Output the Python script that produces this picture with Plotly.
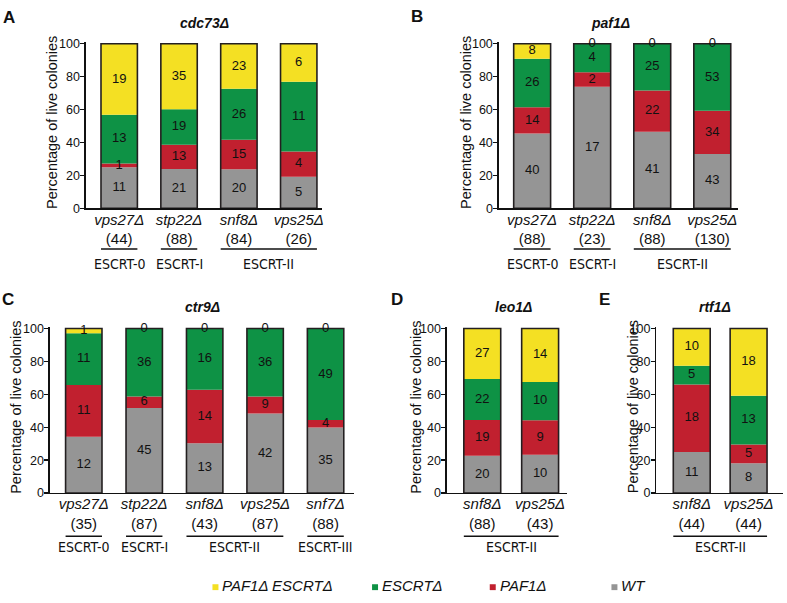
import plotly.graph_objects as go

W, H = 787, 603

# ---------------- data ----------------
series_names = ["WT", "PAF1Δ", "ESCRTΔ", "PAF1Δ ESCRTΔ"]          # stacked bottom -> top
series_colors = ["#959595", "#C1202F", "#0E9245", "#F4E023"]

# A: cdc73Δ
a_title = "cdc73Δ"
a_strains = ["vps27Δ", "stp22Δ", "snf8Δ", "vps25Δ"]
a_wt = [11, 21, 20, 5]
a_paf = [1, 13, 15, 4]
a_escrt = [13, 19, 26, 11]
a_double = [19, 35, 23, 6]
a_groups = [("ESCRT-0", 0, 0), ("ESCRT-I", 1, 1), ("ESCRT-II", 2, 3)]

# B: paf1Δ
b_title = "paf1Δ"
b_strains = ["vps27Δ", "stp22Δ", "snf8Δ", "vps25Δ"]
b_wt = [40, 17, 41, 43]
b_paf = [14, 2, 22, 34]
b_escrt = [26, 4, 25, 53]
b_double = [8, 0, 0, 0]
b_groups = [("ESCRT-0", 0, 0), ("ESCRT-I", 1, 1), ("ESCRT-II", 2, 3)]

# C: ctr9Δ
c_title = "ctr9Δ"
c_strains = ["vps27Δ", "stp22Δ", "snf8Δ", "vps25Δ", "snf7Δ"]
c_wt = [12, 45, 13, 42, 35]
c_paf = [11, 6, 14, 9, 4]
c_escrt = [11, 36, 16, 36, 49]
c_double = [1, 0, 0, 0, 0]
c_groups = [("ESCRT-0", 0, 0), ("ESCRT-I", 1, 1), ("ESCRT-II", 2, 3), ("ESCRT-III", 4, 4)]

# D: leo1Δ
d_title = "leo1Δ"
d_strains = ["snf8Δ", "vps25Δ"]
d_wt = [20, 10]
d_paf = [19, 9]
d_escrt = [22, 10]
d_double = [27, 14]
d_groups = [("ESCRT-II", 0, 1)]

# E: rtf1Δ
e_title = "rtf1Δ"
e_strains = ["snf8Δ", "vps25Δ"]
e_wt = [11, 8]
e_paf = [18, 5]
e_escrt = [5, 13]
e_double = [10, 18]
e_groups = [("ESCRT-II", 0, 1)]

# ---------------- layout (pixels) ----------------
panels = [
    dict(letter="A", title=a_title, strains=a_strains, vals=[a_wt, a_paf, a_escrt, a_double], groups=a_groups,
         left=86, c0=119.5, sp=60, right=323, bw=36.5, top=39.5, bot=207.5,
         tpos=(205, 18), lpos=(9, 13), ytx=52, gly=249, gty=264),
    dict(letter="B", title=b_title, strains=b_strains, vals=[b_wt, b_paf, b_escrt, b_double], groups=b_groups,
         left=500, c0=533.5, sp=60.2, right=740, bw=37, top=39.5, bot=207.5,
         tpos=(612, 18), lpos=(418, 12), ytx=467, gly=249, gty=264),
    dict(letter="C", title=c_title, strains=c_strains, vals=[c_wt, c_paf, c_escrt, c_double], groups=c_groups,
         left=50, c0=84, sp=60.6, right=355, bw=36.5, top=330, bot=498,
         tpos=(203, 308), lpos=(8, 300), ytx=16, gly=542, gty=553),
    dict(letter="D", title=d_title, strains=d_strains, vals=[d_wt, d_paf, d_escrt, d_double], groups=d_groups,
         left=448, c0=483.5, sp=58, right=568, bw=37, top=330, bot=498,
         tpos=(515, 308), lpos=(398, 300), ytx=417, gly=542, gty=553),
    dict(letter="E", title=e_title, strains=e_strains, vals=[e_wt, e_paf, e_escrt, e_double], groups=e_groups,
         left=658, c0=693.5, sp=57, right=785, bw=37, top=330, bot=498,
         tpos=(717, 308), lpos=(606, 300), ytx=634, gly=542, gty=553),
]

FONT = "Liberation Sans, Arial, Helvetica, sans-serif"
NARROW = "Liberation Sans Narrow, Arial Narrow, DejaVu Sans Condensed, sans-serif"
YMAX = 100.8

def px_x(p):
    return p / W

def px_y(p):
    return 1 - p / H

fig = go.Figure()
annotations = []
shapes = []
layout_axes = {}

for k, p in enumerate(panels, start=1):
    xa = "x" if k == 1 else f"x{k}"
    ya = "y" if k == 1 else f"y{k}"
    n = len(p["strains"])
    xs = list(range(n))
    totals = [sum(p["vals"][s][i] for s in range(4)) for i in range(n)]
    bw = p["bw"] / p["sp"]

    cum = [0.0] * n
    tx, ty, tt = [], [], []
    for s in range(4):
        counts = p["vals"][s]
        pct = [counts[i] / totals[i] * 100 for i in range(n)]
        fig.add_trace(go.Bar(
            x=xs, y=pct, base=cum[:], width=bw, xaxis=xa, yaxis=ya,
            marker=dict(color=series_colors[s], line=dict(width=0)),
            showlegend=False, hoverinfo="skip"))
        for i in range(n):
            tx.append(i)
            ty.append(cum[i] + pct[i] / 2 if counts[i] > 0 else 100)
            tt.append(str(counts[i]))
        cum = [cum[i] + pct[i] for i in range(n)]

    # outline of full stacked bar
    fig.add_trace(go.Bar(
        x=xs, y=cum, base=[0] * n, width=bw, xaxis=xa, yaxis=ya,
        marker=dict(color="rgba(0,0,0,0)", line=dict(color="#231F20", width=1.6)),
        showlegend=False, hoverinfo="skip"))
    fig.add_trace(go.Scatter(
        x=tx, y=ty, text=tt, mode="text", xaxis=xa, yaxis=ya,
        textfont=dict(family=FONT, size=13, color="#111"),
        cliponaxis=False, showlegend=False, hoverinfo="skip"))

    x_lo = (p["left"] - p["c0"]) / p["sp"]
    x_hi = (p["right"] - p["c0"]) / p["sp"]
    ph = p["bot"] - p["top"]
    top_px = p["bot"] - ph * YMAX / 100

    layout_axes["xaxis" if k == 1 else f"xaxis{k}"] = dict(
        domain=[px_x(p["left"]), px_x(p["right"])], range=[x_lo, x_hi], anchor=ya,
        tickvals=xs,
        ticktext=[f"<i>{p['strains'][i]}</i><br>({totals[i]})" for i in range(n)],
        tickfont=dict(family=FONT, size=15, color="#111"),
        ticklabelstandoff=-3,
        showline=True, linecolor="#111", linewidth=1.4, ticks="",
        showgrid=False, zeroline=False, fixedrange=True)
    layout_axes["yaxis" if k == 1 else f"yaxis{k}"] = dict(
        domain=[px_y(p["bot"]), px_y(top_px)], range=[0, YMAX], anchor=xa,
        tickvals=[0, 20, 40, 60, 80, 100], ticks="outside", ticklen=4, tickwidth=1.4,
        tickcolor="#111", tickfont=dict(family=FONT, size=12.5, color="#111"),
        ticklabelstandoff=-2,
        showline=True, linecolor="#111", linewidth=1.4,
        showgrid=False, zeroline=False, fixedrange=True)

    # y title
    annotations.append(dict(
        text="Percentage of live colonies", textangle=-90, xref="paper", yref="paper",
        x=px_x(p["ytx"]), y=px_y((p["top"] + p["bot"]) / 2 - 4), showarrow=False,
        font=dict(family=FONT, size=14.5, color="#111"), xanchor="center", yanchor="middle"))
    # panel title
    annotations.append(dict(
        text=f"<b><i>{p['title']}</i></b>", xref="paper", yref="paper",
        x=px_x(p["tpos"][0]), y=px_y(p["tpos"][1]), showarrow=False,
        font=dict(family=FONT, size=14, color="#111"), xanchor="center", yanchor="middle"))
    # panel letter
    annotations.append(dict(
        text=f"<b>{p['letter']}</b>", xref="paper", yref="paper",
        x=px_x(p["lpos"][0]), y=px_y(p["lpos"][1]), showarrow=False,
        font=dict(family=FONT, size=17, color="#111"), xanchor="center", yanchor="middle"))
    # group lines and labels
    for name, i0, i1 in p["groups"]:
        gx0 = i0 - bw / 2
        gx1 = i1 + bw / 2
        shapes.append(dict(type="line", xref=xa, yref="paper", x0=gx0, x1=gx1,
                           y0=px_y(p["gly"]), y1=px_y(p["gly"]),
                           line=dict(color="#111", width=1.4)))
        annotations.append(dict(
            text=name, xref=xa, yref="paper", x=(i0 + i1) / 2, y=px_y(p["gty"]),
            showarrow=False, font=dict(family=NARROW, size=14, color="#111"),
            xanchor="center", yanchor="middle"))

# legend (top of stack first)
legend_sq_x = [213, 373, 491, 613]
legend_y = 592
for j, s in enumerate([3, 2, 1, 0]):
    sx = legend_sq_x[j]
    shapes.append(dict(type="rect", xref="paper", yref="paper",
                       x0=px_x(sx), x1=px_x(sx + 6), y0=px_y(legend_y + 5), y1=px_y(legend_y - 1),
                       fillcolor=series_colors[s], line=dict(width=0)))
    annotations.append(dict(
        text=f"<i>{series_names[s]}</i>", xref="paper", yref="paper",
        x=px_x(sx + 9), y=px_y(legend_y), showarrow=False, borderpad=0,
        font=dict(family=FONT, size=15, color="#111"), xanchor="left", yanchor="middle"))

fig.update_layout(
    width=W, height=H, margin=dict(l=0, r=0, t=0, b=0),
    paper_bgcolor="white", plot_bgcolor="white",
    barmode="overlay", showlegend=False, hovermode=False,
    annotations=annotations, shapes=shapes,
    **layout_axes)

fig.write_html("out.html",
               config={"displayModeBar": False, "staticPlot": True},
               post_script="document.body.style.margin='0';document.body.style.overflow='hidden';")
